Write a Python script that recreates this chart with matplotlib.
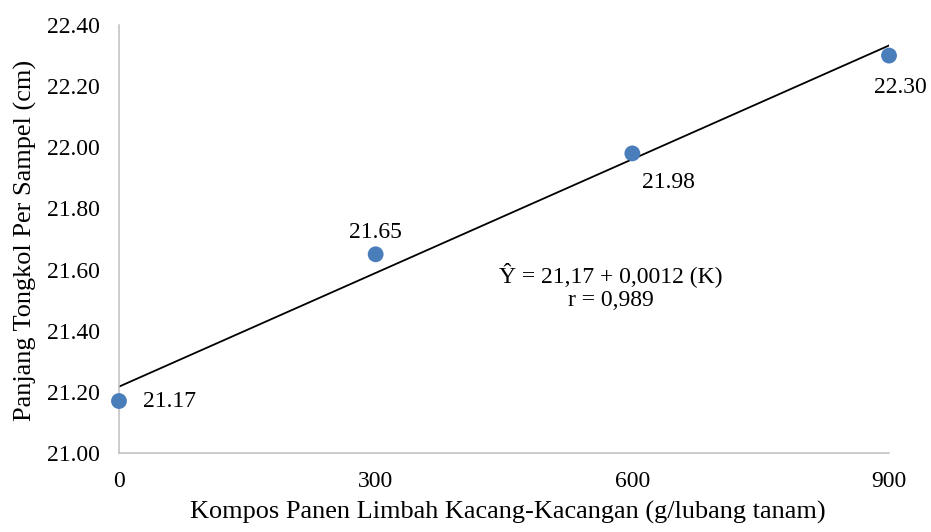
"""Scatter with linear trend: cob length vs legume-waste compost dose."""

import numpy as np
import matplotlib.pyplot as plt

plt.rcParams["font.family"] = ["Liberation Serif", "DejaVu Serif"]

dose = [0, 300, 600, 900]
cob_length = [21.17, 21.65, 21.98, 22.30]
point_labels = ["21.17", "21.65", "21.98", "22.30"]
y_ticks = [21.00, 21.20, 21.40, 21.60, 21.80, 22.00, 22.20, 22.40]
x_ticks = [0, 300, 600, 900]

# label offsets (points) for each data label
label_offsets = [(17, 0), (0, 16), (26, -21), (8, -23)]
label_align = ["left", "center", "center", "center"]

fig = plt.figure(figsize=(9.31, 5.32), dpi=100)
ax = fig.add_axes([0.1278, 0.1485, 0.8271, 0.8045])

ax.scatter(dose, cob_length, s=130, color="#4A7EBB", edgecolors="none",
           zorder=3, clip_on=False)

# least-squares trend line
slope, intercept = np.polyfit(dose, cob_length, 1)
xs = np.array([dose[0], dose[-1]])
ax.plot(xs, intercept + slope * xs, color="black", linewidth=1.3, zorder=2)

for x, y, text, off, ha in zip(dose, cob_length, point_labels, label_offsets, label_align):
    ax.annotate(text, (x, y), xytext=off, textcoords="offset points",
                ha=ha, va="center", fontsize=17)

ax.text(575, 21.545, "Ŷ = 21,17 + 0,0012 (K)\nr = 0,989", ha="center", va="center",
        fontsize=17, linespacing=1.2)

ax.set_xlim(0, 900)
ax.set_ylim(21.0, 22.4)
ax.set_xticks(x_ticks)
ax.set_yticks(y_ticks)
ax.set_yticklabels([f"{v:.2f}" for v in y_ticks])
ax.tick_params(length=0, labelsize=17)
ax.tick_params(axis="x", pad=13)
ax.tick_params(axis="y", pad=14)

for side in ("top", "right"):
    ax.spines[side].set_visible(False)
for side in ("left", "bottom"):
    ax.spines[side].set_color("#BFBFBF")
    ax.spines[side].set_linewidth(1.1)

ax.set_xlabel("Kompos Panen Limbah Kacang-Kacangan (g/lubang tanam)", fontsize=18.9)
ax.set_ylabel("Panjang Tongkol Per Sampel (cm)", fontsize=18.9)
ax.xaxis.set_label_coords(0.5045, -0.1125)
ax.yaxis.set_label_coords(-0.1065, 0.4977)

fig.savefig("out.png", dpi=100, facecolor="white")
